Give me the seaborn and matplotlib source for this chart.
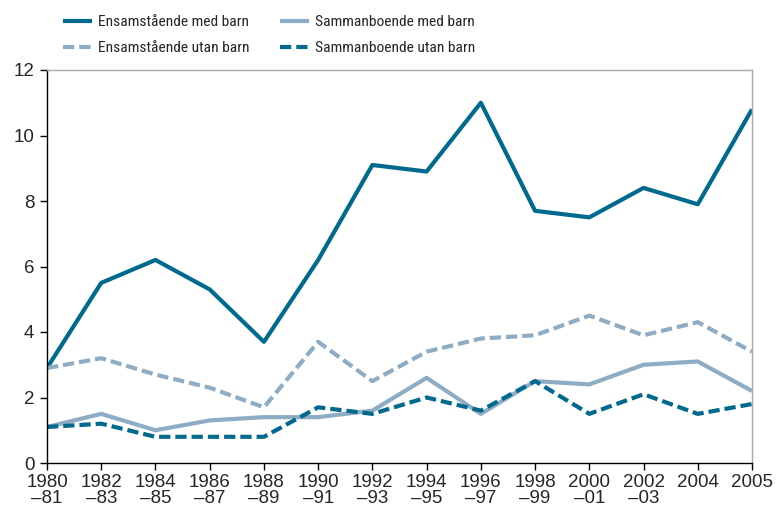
import matplotlib
matplotlib.use("Agg")
import matplotlib.pyplot as plt
import seaborn as sns
import pandas as pd
from matplotlib import font_manager as fm

periods = ["1980\n\u201381", "1982\n\u201383", "1984\n\u201385", "1986\n\u201387", "1988\n\u201389",
           "1990\n\u201391", "1992\n\u201393", "1994\n\u201395", "1996\n\u201397", "1998\n\u201399",
           "2000\n\u201301", "2002\n\u201303", "2004", "2005"]
ens_med = [2.9, 5.5, 6.2, 5.3, 3.7, 6.2, 9.1, 8.9, 11.0, 7.7, 7.5, 8.4, 7.9, 10.8]
ens_utan = [2.9, 3.2, 2.7, 2.3, 1.7, 3.7, 2.5, 3.4, 3.8, 3.9, 4.5, 3.9, 4.3, 3.4]
sam_med = [1.1, 1.5, 1.0, 1.3, 1.4, 1.4, 1.6, 2.6, 1.5, 2.5, 2.4, 3.0, 3.1, 2.2]
sam_utan = [1.1, 1.2, 0.8, 0.8, 0.8, 1.7, 1.5, 2.0, 1.6, 2.5, 1.5, 2.1, 1.5, 1.8]

series_names = ["Ensamstående med barn", "Ensamstående utan barn",
                "Sammanboende med barn", "Sammanboende utan barn"]
series_vals = [ens_med, ens_utan, sam_med, sam_utan]

dark = "#006a8e"
light = "#8eacc4"
dash_pat = (2.7, 1.2)
styles = {
    "Ensamstående med barn": (dark, None),
    "Ensamstående utan barn": (light, dash_pat),
    "Sammanboende med barn": (light, None),
    "Sammanboende utan barn": (dark, dash_pat),
}

# pick an installed narrow sans face for the legend
available = {f.name for f in fm.fontManager.ttflist}
narrow = "Liberation Sans"
for cand in ["Liberation Sans Narrow", "Roboto Condensed", "Archivo Narrow",
             "PT Sans Narrow", "Open Sans Condensed", "Encode Sans Condensed"]:
    if cand in available:
        narrow = cand
        break

sns.set_theme(style="white")
plt.rcParams["font.family"] = ["Liberation Sans", "DejaVu Sans"]

fig = plt.figure(figsize=(7.79, 5.15), dpi=100)
ax = fig.add_axes([47/779, 1-463/515, (752-47)/779, (463-70)/515])

# size the legend font so the first label is ~152 px wide as in the reference
renderer = fig.canvas.get_renderer()
probe = fig.text(0, 0, series_names[0], fontsize=14, family=[narrow, "DejaVu Sans"])
w = probe.get_window_extent(renderer).width
probe.remove()
leg_fs = 14 * 152.0 / w

frames = []
for name, vals in zip(series_names, series_vals):
    frames.append(pd.DataFrame({"x": range(len(periods)), "y": vals, "serie": name}))
df = pd.concat(frames, ignore_index=True)

handles = {}
for name in series_names:
    color, dash = styles[name]
    sub = df[df["serie"] == name]
    sns.lineplot(data=sub, x="x", y="y", ax=ax, color=color, linewidth=3.0, label=name)
    line = ax.get_lines()[-1]
    if dash is not None:
        line.set_dashes(dash)
    line.set_solid_capstyle("butt")
    line.set_dash_capstyle("butt")
    handles[name] = line
ax.get_legend().remove()

ax.set_xlim(0, len(periods) - 1)
ax.set_ylim(0, 12)
ax.set_yticks(range(0, 13, 2))
ax.set_xticks(range(len(periods)))
ax.set_xticklabels(periods, fontsize=13.5, linespacing=0.95)
ax.tick_params(axis="y", labelsize=13.5, length=5, width=1, color="black", direction="out", left=True, pad=4)
ax.tick_params(axis="x", length=5, width=1, color="black", direction="out", bottom=True, pad=3)
ax.set_xlabel("")
ax.set_ylabel("")
for s in ["left", "bottom"]:
    ax.spines[s].set_color("black")
    ax.spines[s].set_linewidth(1.0)
for s in ["top", "right"]:
    ax.spines[s].set_color("#aaaaaa")
    ax.spines[s].set_linewidth(1.0)

fs_px = leg_fs * 100 / 72.0
legend_cols = [["Ensamstående med barn", "Ensamstående utan barn"],
               ["Sammanboende med barn", "Sammanboende utan barn"]]
legend_x = [63/779, 280/779]
for names, lx in zip(legend_cols, legend_x):
    leg = fig.legend([handles[n] for n in names], names, ncol=1, frameon=False,
                     loc="upper left", bbox_to_anchor=(lx, 1 - 15/515),
                     prop={"family": [narrow, "DejaVu Sans"], "size": leg_fs},
                     handlelength=29/fs_px, handletextpad=6/fs_px, labelspacing=12/fs_px,
                     borderpad=0.0, borderaxespad=0.0)

fig.savefig("out.png", dpi=100)
